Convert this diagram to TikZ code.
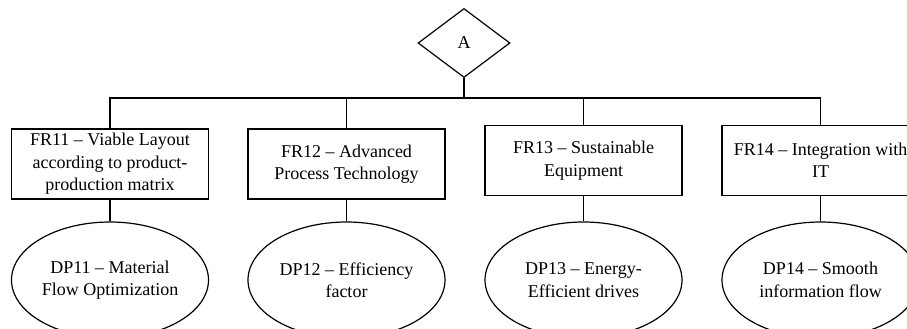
\documentclass[tikz,border=0pt]{standalone}
\usepackage{fontspec}
\setmainfont{Liberation Serif}
\usetikzlibrary{shapes.geometric}

\begin{document}
\begin{tikzpicture}[x=1pt, y=-1pt,
    every node/.style={font=\fontsize{18}{22.5}\selectfont, align=center},
    frbox/.style={draw, line width=1.2pt, minimum width=197pt, minimum height=70pt, inner sep=0pt},
    dpell/.style={draw, ellipse, line width=1.2pt, minimum width=197pt, minimum height=116pt, inner sep=0pt},
    link/.style={line width=1.3pt}]
    \useasboundingbox (0,0) rectangle (907,329);
    \clip (0,0) rectangle (907,329);

    % Top node
    \node[draw, diamond, line width=1.2pt, minimum width=92pt, minimum height=69pt, inner sep=0pt] (A) at (464,43) {A};
    \coordinate (bar) at (464,98);

    % Functional requirements
    \node[frbox] (fr11) at (110,164)   {FR11 -- Viable Layout\\according to product-\\production matrix};
    \node[frbox] (fr12) at (346.5,164) {FR12 -- Advanced\\Process Technology};
    \node[frbox] (fr13) at (583.5,160.5) {FR13 -- Sustainable\\Equipment};
    \node[frbox] (fr14) at (820.5,160.5) {FR14 -- Integration with\\IT};

    % Design parameters
    \node[dpell] (dp11) at (110,280)   {DP11 -- Material\\Flow Optimization};
    \node[dpell] (dp12) at (346.5,280) {DP12 -- Efficiency\\factor};
    \node[dpell] (dp13) at (583.5,280) {DP13 -- Energy-\\Efficient drives};
    \node[dpell] (dp14) at (820.5,280) {DP14 -- Smooth\\information flow};

    % Tree lines
    \draw[link] (A.south) -- (bar);
    \draw[link] (fr11.north) |- (bar) -| (fr14.north);
    \draw[link] (fr12.north) -- (fr12.north |- bar);
    \draw[link] (fr13.north) -- (fr13.north |- bar);
    \foreach \i in {11,12,13,14}
        \draw[link] (fr\i.south) -- (dp\i.north);
\end{tikzpicture}
\end{document}
